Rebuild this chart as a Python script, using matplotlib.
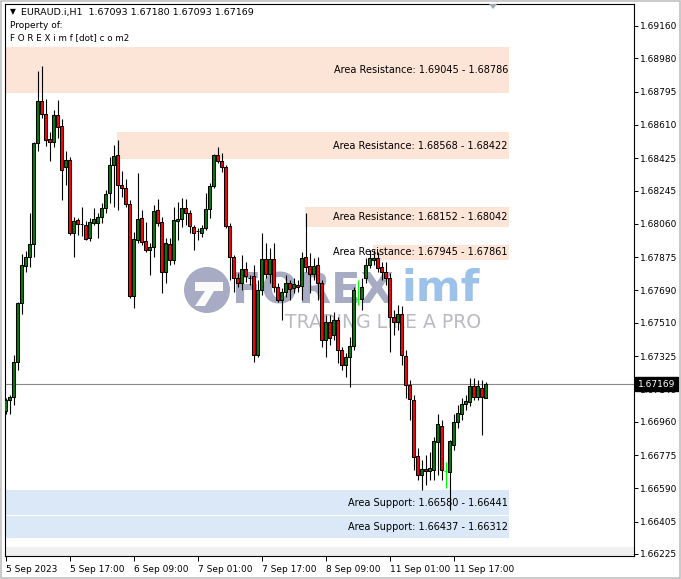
import matplotlib
matplotlib.use("Agg")
import matplotlib.pyplot as plt
from matplotlib.patches import Rectangle, Circle, Polygon
from matplotlib.transforms import Affine2D

# ---------------- data (EURAUD.i, H1) ----------------
opens = [1.67020, 1.67081, 1.67098, 1.67292, 1.67620, 1.67826, 1.67876, 1.67948, 1.68510, 1.68743,
         1.68671, 1.68532, 1.68515, 1.68666, 1.68604, 1.68376, 1.68415, 1.68010, 1.68082, 1.68060,
         1.68054, 1.67982, 1.68065, 1.68065, 1.68098, 1.68149, 1.68232, 1.68388, 1.68443, 1.68276,
         1.68260, 1.68171, 1.67659, 1.67971, 1.68093, 1.67965, 1.67915, 1.67932, 1.68137, 1.68071,
         1.67793, 1.67948, 1.67859, 1.68076, 1.68087, 1.68149, 1.68121, 1.68043, 1.68021, 1.68010,
         1.68037, 1.68143, 1.68271, 1.68443, 1.68410, 1.68376, 1.68048, 1.67876, 1.67759, 1.67732,
         1.67809, 1.67759, 1.67770, 1.67331, 1.67693, 1.67865, 1.67782, 1.67865, 1.67709, 1.67637,
         1.67681, 1.67732, 1.67704, 1.67720, 1.67715, 1.67876, 1.67826, 1.67782, 1.67832, 1.67732,
         1.67415, 1.67515, 1.67442, 1.67526, 1.67359, 1.67276, 1.67320, 1.67381, 1.67643, 1.67643,
         1.67759, 1.67832, 1.67859, 1.67871, 1.67820, 1.67793, 1.67759, 1.67542, 1.67515, 1.67559,
         1.67326, 1.67164, 1.67081, 1.66770, 1.66664, 1.66697, 1.66686, 1.66692, 1.66847, 1.66936,
         1.66686, 1.66681, 1.66831, 1.66959, 1.67003, 1.67059, 1.67070, 1.67159, 1.67098, 1.67148,
         1.67093]
highs = [1.67092, 1.67109, 1.67331, 1.67626, 1.67893, 1.67909, 1.68121, 1.68515, 1.68910, 1.68938,
         1.68755, 1.68571, 1.68693, 1.68749, 1.68643, 1.68465, 1.68432, 1.68098, 1.68093, 1.68154,
         1.68076, 1.68093, 1.68149, 1.68121, 1.68176, 1.68249, 1.68432, 1.68499, 1.68527, 1.68354,
         1.68310, 1.68193, 1.68015, 1.68343, 1.68137, 1.68071, 1.67954, 1.68165, 1.68199, 1.68098,
         1.67982, 1.67982, 1.68154, 1.68182, 1.68204, 1.68199, 1.68137, 1.68054, 1.68037, 1.68054,
         1.68232, 1.68288, 1.68450, 1.68488, 1.68454, 1.68388, 1.68065, 1.67887, 1.67787, 1.67887,
         1.67848, 1.67776, 1.67832, 1.67748, 1.68010, 1.67954, 1.67926, 1.67954, 1.67732, 1.67704,
         1.67776, 1.67748, 1.67759, 1.67748, 1.67904, 1.68121, 1.67898, 1.67871, 1.67876, 1.67748,
         1.67554, 1.67554, 1.67570, 1.67542, 1.67376, 1.67342, 1.67431, 1.67709, 1.67748, 1.67759,
         1.67871, 1.67915, 1.67915, 1.67904, 1.67848, 1.67848, 1.67787, 1.67581, 1.67609, 1.67604,
         1.67359, 1.67192, 1.67109, 1.66814, 1.66747, 1.66775, 1.66792, 1.66875, 1.67003, 1.66970,
         1.66736, 1.66859, 1.67003, 1.67053, 1.67092, 1.67109, 1.67203, 1.67203, 1.67192, 1.67192,
         1.67180]
lows = [1.67003, 1.67003, 1.67053, 1.67248, 1.67559, 1.67793, 1.67820, 1.67876, 1.68465, 1.68649,
        1.68493, 1.68410, 1.68488, 1.68538, 1.68193, 1.68276, 1.67998, 1.67876, 1.67998, 1.67993,
        1.67971, 1.67965, 1.68054, 1.67982, 1.68065, 1.68121, 1.68176, 1.68154, 1.68137, 1.68210,
        1.68154, 1.67648, 1.67593, 1.67954, 1.67943, 1.67904, 1.67776, 1.67876, 1.68048, 1.67676,
        1.67732, 1.67832, 1.67837, 1.67971, 1.68043, 1.68054, 1.68010, 1.67915, 1.67971, 1.67987,
        1.68026, 1.68093, 1.68260, 1.68399, 1.68349, 1.68037, 1.67748, 1.67681, 1.67709, 1.67693,
        1.67737, 1.67720, 1.67292, 1.67320, 1.67665, 1.67759, 1.67732, 1.67681, 1.67626, 1.67526,
        1.67654, 1.67637, 1.67676, 1.67681, 1.67637, 1.67793, 1.67676, 1.67748, 1.67637, 1.67376,
        1.67320, 1.67387, 1.67415, 1.67287, 1.67248, 1.67209, 1.67153, 1.67359, 1.67609, 1.67581,
        1.67732, 1.67815, 1.67832, 1.67793, 1.67748, 1.67720, 1.67348, 1.67442, 1.67470, 1.67276,
        1.67092, 1.66970, 1.66692, 1.66636, 1.66581, 1.66608, 1.66636, 1.66636, 1.66664, 1.66636,
        1.66592, 1.66469, 1.66803, 1.66925, 1.66970, 1.67025, 1.67048, 1.67081, 1.67081, 1.66886,
        1.67093]
closes = [1.67081, 1.67098, 1.67292, 1.67620, 1.67832, 1.67876, 1.67948, 1.68510, 1.68743, 1.68671,
          1.68527, 1.68515, 1.68666, 1.68599, 1.68360, 1.68415, 1.68010, 1.68076, 1.68060, 1.68058,
          1.67976, 1.68071, 1.68087, 1.68098, 1.68149, 1.68226, 1.68388, 1.68438, 1.68276, 1.68260,
          1.68171, 1.67659, 1.67976, 1.68087, 1.67959, 1.67915, 1.67932, 1.68132, 1.68065, 1.67793,
          1.67954, 1.67859, 1.68082, 1.68087, 1.68149, 1.68121, 1.68048, 1.68010, 1.68019, 1.68037,
          1.68143, 1.68271, 1.68443, 1.68410, 1.68376, 1.68048, 1.67876, 1.67759, 1.67732, 1.67809,
          1.67770, 1.67758, 1.67331, 1.67693, 1.67865, 1.67782, 1.67865, 1.67709, 1.67637, 1.67681,
          1.67732, 1.67698, 1.67726, 1.67709, 1.67871, 1.67820, 1.67782, 1.67826, 1.67732, 1.67415,
          1.67515, 1.67426, 1.67526, 1.67359, 1.67276, 1.67320, 1.67381, 1.67693, 1.67643, 1.67709,
          1.67832, 1.67871, 1.67871, 1.67815, 1.67793, 1.67759, 1.67542, 1.67515, 1.67559, 1.67331,
          1.67164, 1.67087, 1.66764, 1.66664, 1.66697, 1.66686, 1.66703, 1.66853, 1.66948, 1.66692,
          1.66686, 1.66853, 1.66959, 1.67009, 1.67059, 1.67075, 1.67159, 1.67098, 1.67159, 1.67098,
          1.67169]

ytick_values = [1.69160, 1.68980, 1.68795, 1.68610, 1.68425, 1.68245, 1.68060, 1.67875, 1.67690,
                1.67510, 1.67325, 1.67140, 1.66960, 1.66775, 1.66590, 1.66405, 1.66225]
xtick_bars = [0, 16, 32, 48, 64, 80, 96, 112]
xtick_labels = ["5 Sep 2023", "5 Sep 17:00", "6 Sep 09:00", "7 Sep 01:00",
                "7 Sep 17:00", "8 Sep 09:00", "11 Sep 01:00", "11 Sep 17:00"]

zone_tops = [1.69045, 1.68568, 1.68152, 1.67945, 1.66580, 1.66437]
zone_bottoms = [1.68786, 1.68422, 1.68042, 1.67861, 1.66441, 1.66312]
zone_kinds = ["Resistance", "Resistance", "Resistance", "Resistance", "Support", "Support"]
zone_start_bars = [-1, 27.9, 74.9, 91.9, -1, -1]

symbol = "EURAUD.i,H1"
last_price = closes[-1]

# ---------------- figure ----------------
W, H = 681, 579
fig = plt.figure(figsize=(W / 100, H / 100), dpi=100)
fig.patch.set_facecolor("white")
PIX = Affine2D().scale(1, -1).translate(0, H)   # top-left pixel coordinates

ax_l, ax_r, ax_t, ax_b = 4.5, 633.5, 4, 556
ax = fig.add_axes([ax_l / W, 1 - ax_b / H, (ax_r - ax_l) / W, (ax_b - ax_t) / H])
ax.set_facecolor("white")

px_per_bar = 4.0
x0 = -0.25
x1 = x0 + (ax_r - ax_l) / px_per_bar
ax.set_xlim(x0, x1)
y_hi_px, y_lo_px = 26, 554
scale = (y_lo_px - y_hi_px) / (ytick_values[0] - ytick_values[-1])
ymax = ytick_values[0] + (y_hi_px - ax_t) / scale
ymin = ytick_values[-1] - (ax_b - y_lo_px) / scale
ax.set_ylim(ymin, ymax)

# zones
res_color = (252 / 255, 228 / 255, 214 / 255)
sup_color = (218 / 255, 232 / 255, 248 / 255)
zone_end = 125.9
for top, bot, kind, start in zip(zone_tops, zone_bottoms, zone_kinds, zone_start_bars):
    c = res_color if kind == "Resistance" else sup_color
    ax.add_patch(Rectangle((start, bot), zone_end - start, top - bot, facecolor=c,
                           edgecolor="none", zorder=1))
    ax.text(zone_end - 0.3, (top + bot) / 2, f"Area {kind}: {top:.5f} - {bot:.5f}",
            ha="right", va="center", fontsize=7, color="black", zorder=6,
            family="DejaVu Sans")

# bottom grey band
ax.add_patch(Rectangle((0, 0), 1, 9 / (ax_b - ax_t), transform=ax.transAxes,
                       facecolor="#f0f0f0", edgecolor="none", zorder=1))

# watermark (behind the candles)
wm_col = (0.60, 0.61, 0.73)
ax.add_patch(Circle((207, 290), 23, transform=PIX, facecolor=wm_col, edgecolor="none",
                    alpha=0.85, zorder=3, clip_on=False))
ax.add_patch(Polygon([(195, 282), (223, 282), (223, 291), (214, 291), (205, 306), (195, 306),
                      (205, 291), (195, 291)], closed=True, transform=PIX,
                     facecolor="white", edgecolor="none", alpha=0.95, zorder=3, clip_on=False))
ax.text(232, 291, "FOREX", transform=PIX, fontsize=31, fontweight="bold", color=wm_col,
        alpha=0.85, ha="left", va="center", zorder=3, family="DejaVu Sans")
ax.text(401, 289, "imf", transform=PIX, fontsize=31, fontweight="bold",
        color=(0.55, 0.72, 0.90), alpha=0.85, ha="left", va="center", zorder=3,
        family="DejaVu Sans")
ax.text(285, 323, "TRADING LIKE A PRO", transform=PIX, fontsize=13.6,
        color=(0.68, 0.68, 0.72), alpha=0.85, ha="left", va="center", zorder=3,
        family="DejaVu Sans")

# current price line
ax.axhline(last_price, color="#8a8a8a", lw=0.8, zorder=2)

# candles
n = len(opens)
for i in range(n):
    o, h, l, c = opens[i], highs[i], lows[i], closes[i]
    if o == c:
        ax.vlines(i, l, h, color="#00ff00", lw=0.9, zorder=5)
        ax.hlines(o, i - 0.45, i + 0.45, color="#00ff00", lw=0.9, zorder=5)
        continue
    ax.vlines(i, l, h, color="black", lw=0.8, zorder=5)
    col = "#008000" if c > o else "#ff0000"
    ax.add_patch(Rectangle((i - 0.26, min(o, c)), 0.52, abs(c - o), facecolor=col,
                           edgecolor="black", lw=0.75, zorder=5))

# axes styling
for s in ax.spines.values():
    s.set_color("black")
    s.set_linewidth(0.8)
ax.yaxis.tick_right()
ax.set_yticks(ytick_values)
ax.set_yticklabels([f"{v:.5f}" for v in ytick_values])
ax.tick_params(axis="y", direction="out", length=3, width=0.7, pad=2, labelsize=6.5,
               labelfontfamily="DejaVu Sans")
ax.set_xticks(xtick_bars)
ax.set_xticklabels(xtick_labels)
ax.tick_params(axis="x", direction="out", length=3.5, width=0.7, pad=3, labelsize=6.5,
               labelfontfamily="DejaVu Sans")
for lab in ax.get_xticklabels():
    lab.set_ha("left")

# last price label box on the right axis (covers the 1.67140 label like in MT4)
ax.annotate(f"{last_price:.5f}", xy=(1, last_price), xycoords=("axes fraction", "data"),
            xytext=(3, 0), textcoords="offset points", ha="left", va="center",
            fontsize=6.5, color="white", family="DejaVu Sans",
            bbox=dict(boxstyle="square,pad=0.3", facecolor="black", edgecolor="black"),
            annotation_clip=False, zorder=10)

# header texts
fig.text(10 / W, 1 - 12 / H, "\u25bc", fontsize=5.5, ha="left", va="center", family="DejaVu Sans")
fig.text(21 / W, 1 - 12 / H,
         f"{symbol}  {opens[-1]:.5f} {highs[-1]:.5f} {lows[-1]:.5f} {closes[-1]:.5f}",
         fontsize=6.8, ha="left", va="center", family="DejaVu Sans")
fig.text(10 / W, 1 - 25 / H, "Property of:", fontsize=6.5, ha="left", va="center",
         family="DejaVu Sans")
fig.text(10 / W, 1 - 37.5 / H, "F O R E X i m f [dot] c o m2", fontsize=6.3, ha="left",
         va="center", family="DejaVu Sans")

# chart shift marker
fig.add_artist(Polygon([(489, 4), (497, 4), (493, 9)], closed=True, transform=PIX,
                       facecolor="#a0a8b8", edgecolor="none"))

# window frame
fig.add_artist(Rectangle((0.5, 0.5), W - 1.5, H - 1.5, transform=PIX, fill=False,
                         edgecolor="#c0c0c0", lw=1.2))

fig.savefig("out.png", dpi=100)
